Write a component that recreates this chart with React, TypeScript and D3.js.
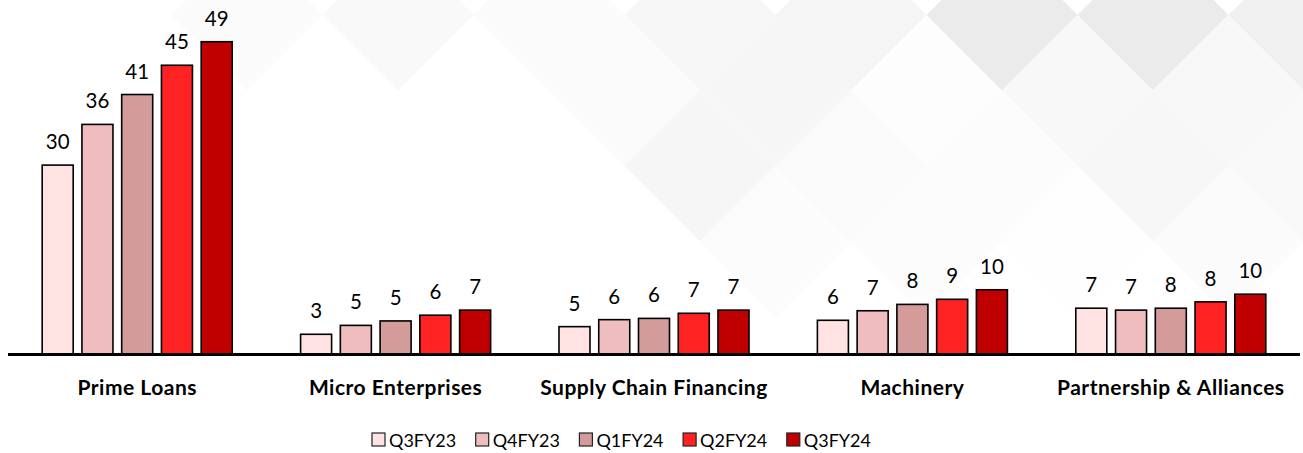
import React, { useRef, useEffect } from 'react';
import * as d3 from 'd3';

// categories on the x axis
const categories = ['Prime Loans', 'Micro Enterprises', 'Supply Chain Financing', 'Machinery', 'Partnership & Alliances'];
const seriesNames = ['Q3FY23', 'Q4FY23', 'Q1FY24', 'Q2FY24', 'Q3FY24'];
const colors = ['#FFE2E2', '#EFBDBD', '#D49B9B', '#FF2222', '#C00000'];

// bar heights
const q3fy23 = [29.7, 3.1, 4.3, 5.3, 7.2];
const q4fy23 = [36.1, 4.5, 5.4, 6.8, 6.9];
const q1fy24 = [40.8, 5.2, 5.6, 7.8, 7.2];
const q2fy24 = [45.4, 6.1, 6.4, 8.6, 8.2];
const q3fy24 = [49.1, 6.9, 6.9, 10.1, 9.4];

// data labels as printed on the chart
const q3fy23Labels = ['30', '3', '5', '6', '7'];
const q4fy23Labels = ['36', '5', '6', '7', '7'];
const q1fy24Labels = ['41', '5', '6', '8', '8'];
const q2fy24Labels = ['45', '6', '7', '9', '8'];
const q3fy24Labels = ['49', '7', '7', '10', '10'];

const seriesValues = [q3fy23, q4fy23, q1fy24, q2fy24, q3fy24];
const seriesLabels = [q3fy23Labels, q4fy23Labels, q1fy24Labels, q2fy24Labels, q3fy24Labels];

// decorative background diamonds [m, n, shade]
const bgCells = [
  [0, 0, '#ebebeb'], [2, 0, '#ebebeb'], [4, 0, '#f0f0f0'], [-2, 0, '#f5f5f5'], [-4, 0, '#f7f7f7'],
  [-6, 0, '#fbfbfb'], [-8, 0, '#f9f9f9'], [-10, 0, '#fbfbfb'],
  [1, 1, '#f8f8f8'], [3, 1, '#f8f8f8'], [-1, 1, '#fdfdfd'], [-3, 1, '#f6f6f6'], [-5, 1, '#fbfbfb'],
  [0, 2, '#fcfcfc'], [2, 2, '#f7f7f7'], [-2, 2, '#fafafa'], [-4, 2, '#f6f6f6'], [4, 2, '#f9f9f9'],
  [1, 3, '#fefefe'], [3, 3, '#fbfbfb'], [-1, 3, '#fcfcfc'], [-3, 3, '#fcfcfc'],
];

const W = 1303;
const H = 453;
const FONT = 'Lato, "Open Sans", sans-serif';

const App = () => {
  const svgRef = useRef();

  useEffect(() => {
    const svg = d3.select(svgRef.current);
    svg.selectAll('*').remove();

    // background
    svg.append('rect').attr('width', W).attr('height', H).attr('fill', '#ffffff');
    const h = 75.5;
    svg.append('g')
      .selectAll('path')
      .data(bgCells)
      .join('path')
      .attr('d', d => {
        const cx = 1002 + h * d[0];
        const cy = 15 + h * d[1];
        return `M${cx},${cy - h}L${cx + h},${cy}L${cx},${cy + h}L${cx - h},${cy}Z`;
      })
      .attr('fill', d => d[2]);

    const x0 = d3.scaleBand().domain(categories).range([8, 1300]);
    const x1 = d3.scaleBand().domain(seriesNames).range([0, x0.bandwidth()])
      .paddingInner(0.22).paddingOuter(0.86);
    const y = d3.scaleLinear().domain([0, 50]).range([354, 36]);

    const rows = categories.map((c, ci) => ({
      cat: c,
      items: seriesNames.map((s, si) => ({ s, si, v: seriesValues[si][ci], label: seriesLabels[si][ci] })),
    }));

    const groups = svg.append('g')
      .selectAll('g')
      .data(rows)
      .join('g')
      .attr('transform', d => `translate(${x0(d.cat)},0)`);

    groups.selectAll('rect')
      .data(d => d.items)
      .join('rect')
      .attr('x', d => x1(d.s))
      .attr('y', d => y(d.v))
      .attr('width', x1.bandwidth())
      .attr('height', d => y(0) - y(d.v))
      .attr('fill', d => colors[d.si])
      .attr('stroke', '#000')
      .attr('stroke-width', 1.6);

    groups.selectAll('text')
      .data(d => d.items)
      .join('text')
      .attr('x', d => x1(d.s) + x1.bandwidth() / 2)
      .attr('y', d => y(d.v) - 16)
      .attr('text-anchor', 'middle')
      .attr('font-family', FONT)
      .attr('font-size', 20.5)
      .attr('fill', '#000')
      .text(d => d.label);

    // axis line
    svg.append('line')
      .attr('x1', 8).attr('x2', 1300)
      .attr('y1', y(0) + 0.5).attr('y2', y(0) + 0.5)
      .attr('stroke', '#000').attr('stroke-width', 3);

    // category labels
    svg.append('g')
      .selectAll('text')
      .data(categories)
      .join('text')
      .attr('x', d => x0(d) + x0.bandwidth() / 2)
      .attr('y', 395)
      .attr('text-anchor', 'middle')
      .attr('font-family', FONT)
      .attr('font-weight', 'bold')
      .attr('font-size', 21)
      .attr('letter-spacing', 0.5)
      .attr('fill', '#000')
      .text(d => d);

    // legend
    const legend = svg.append('g')
      .selectAll('g')
      .data(seriesNames)
      .join('g')
      .attr('transform', (d, i) => `translate(${372 + i * 103.7},433)`);
    legend.append('rect')
      .attr('width', 13).attr('height', 13)
      .attr('fill', (d, i) => colors[i])
      .attr('stroke', '#222').attr('stroke-width', 1.2);
    legend.append('text')
      .attr('x', 17).attr('y', 13.5)
      .attr('font-family', FONT)
      .attr('font-size', 18)
      .attr('fill', '#000')
      .text(d => d);
  }, []);

  return (
    <svg ref={svgRef} width={W} height={H}
      style={{ position: 'absolute', left: 0, top: 0, display: 'block' }}>
    </svg>
  );
};

export default App;
